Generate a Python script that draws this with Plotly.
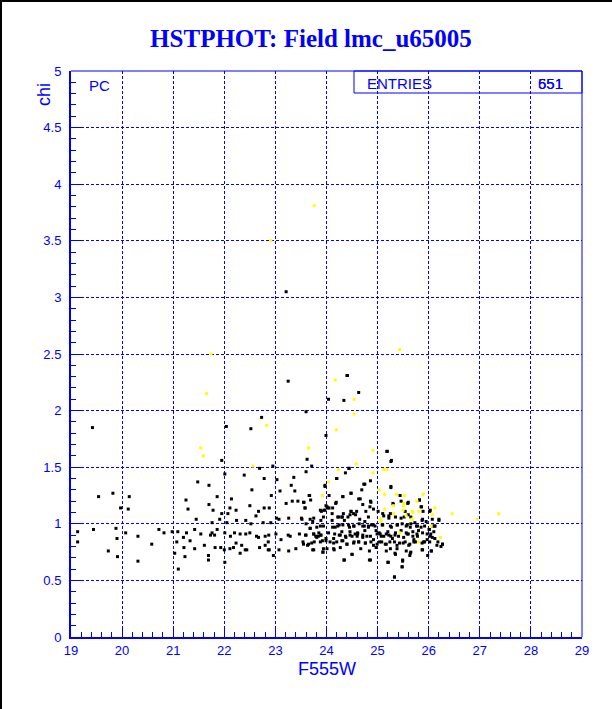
import plotly.graph_objects as go

# ---- data (F555W magnitude, chi) ----
black_left = [
    (19.42, 1.85), (23.25, 2.26), (22.73, 1.94), (22.52, 1.84), (22.04, 1.86), (21.95, 1.56),
    (22.95, 1.51), (22.69, 1.49), (22.39, 1.43), (22.01, 1.44), (22.78, 1.40), (23.03, 1.39),
    (23.36, 1.41), (21.48, 1.37), (21.70, 1.34), (22.54, 1.30), (23.31, 1.34), (23.09, 1.29),
    (23.38, 1.29), (22.92, 1.25), (21.86, 1.24), (22.14, 1.22), (21.25, 1.21), (21.29, 1.13),
    (21.70, 1.17), (21.78, 1.12), (22.11, 1.14), (22.23, 1.12), (22.50, 1.16), (22.78, 1.14),
    (22.88, 1.14), (23.21, 1.18), (23.33, 1.20), (23.44, 1.20), (19.97, 1.14), (20.12, 1.13),
    (19.54, 1.24), (19.82, 1.27), (20.14, 1.24), (21.95, 1.09), (22.07, 1.09), (21.45, 1.04),
    (21.91, 1.04), (22.24, 1.03), (22.42, 1.03), (22.62, 1.07), (22.67, 1.11), (23.02, 1.05),
    (23.07, 1.04), (23.26, 1.05), (21.76, 1.01), (22.05, 1.01), (22.52, 1.00), (22.76, 1.01),
    (22.91, 1.01), (23.21, 3.05),
    (19.13, 0.93), (19.44, 0.95), (19.88, 0.96), (20.07, 0.92), (20.31, 0.89), (20.72, 0.95),
    (20.82, 0.92), (20.98, 0.93), (21.09, 0.93), (21.26, 0.92), (21.42, 0.95), (21.54, 0.91),
    (21.76, 0.92), (21.81, 0.90), (21.73, 0.90), (21.86, 0.95), (22.01, 0.92), (22.12, 0.89),
    (22.20, 0.92), (22.31, 0.91), (22.42, 0.91), (22.50, 0.92), (22.63, 0.89), (22.67, 0.88),
    (22.80, 0.89), (22.87, 0.90), (23.01, 0.91), (23.11, 0.86), (23.25, 0.90), (23.29, 0.89),
    (23.47, 0.91), (19.13, 0.84), (19.73, 0.76), (19.91, 0.71), (20.31, 0.67), (20.58, 0.82),
    (21.07, 0.84), (21.21, 0.79), (21.23, 0.71), (21.03, 0.74), (21.10, 0.60), (21.33, 0.85),
    (21.42, 0.78), (21.61, 0.81), (21.69, 0.72), (21.69, 0.68), (21.82, 0.79), (21.93, 0.79),
    (22.00, 0.77), (22.01, 0.66), (22.11, 0.78), (22.18, 0.79), (22.23, 0.83), (22.34, 0.81),
    (22.31, 0.74), (22.41, 0.77), (22.44, 0.77), (22.69, 0.79), (22.80, 0.81), (22.86, 0.77),
    (22.88, 0.77), (22.86, 0.84), (22.96, 0.72), (23.07, 0.77), (23.26, 0.76), (23.40, 0.78),
    (19.90, 0.87), (21.20, 0.88),
]

black_right = [
    (24.40, 2.31), (24.41, 2.31), (24.63, 2.16), (24.04, 2.10), (24.34, 2.09), (23.60, 1.99),
    (23.99, 1.78), (25.19, 1.64), (23.62, 1.57), (25.27, 1.56), (23.71, 1.51), (24.44, 1.49),
    (23.60, 1.46), (24.37, 1.45), (24.20, 1.40), (24.73, 1.35), (23.97, 1.34), (25.26, 1.33),
    (24.48, 1.27), (25.44, 1.25), (23.66, 1.25), (24.05, 1.25), (24.32, 1.24), (24.66, 1.22),
    (25.82, 1.21), (23.69, 1.21), (24.19, 1.19), (23.56, 1.19), (24.87, 1.19), (25.59, 1.18),
    (25.30, 1.18), (24.71, 1.17), (24.18, 1.18), (23.99, 1.16), (23.58, 1.14), (24.03, 1.14),
    (24.85, 1.15), (25.85, 1.15), (23.90, 1.11), (23.97, 1.12), (24.48, 1.11), (24.77, 1.11),
    (25.01, 1.11), (25.54, 1.11), (26.02, 1.11), (25.25, 1.09), (24.11, 1.09), (24.33, 1.09),
    (25.65, 1.06), (25.12, 1.07), (24.22, 1.06), (24.31, 1.06), (24.42, 1.06), (24.57, 1.08),
    (24.65, 1.04), (24.82, 1.06), (25.22, 1.05), (25.46, 1.05), (26.20, 1.03), (25.87, 1.03),
    (23.52, 1.04), (23.73, 1.02), (23.89, 1.03), (24.11, 1.03), (24.35, 1.03), (24.75, 1.02),
    (24.25, 0.99), (24.43, 0.99), (24.54, 0.98), (24.64, 1.00), (24.71, 0.98), (24.82, 0.98),
    (24.88, 0.99), (24.92, 0.99), (25.10, 0.99), (25.27, 0.97), (25.38, 0.99), (25.48, 1.00),
    (25.58, 0.99), (25.65, 1.00), (25.78, 0.98), (25.92, 0.98), (26.08, 0.98), (26.12, 0.98),
    (26.01, 0.95), (23.68, 0.96), (24.17, 0.97), (24.30, 0.93), (24.46, 0.93), (24.61, 0.92),
    (24.75, 0.94), (24.97, 0.94), (25.03, 0.92), (25.20, 0.93), (25.35, 0.92), (25.46, 0.94),
    (25.56, 0.92), (25.69, 0.93), (25.80, 0.94), (25.88, 0.92), (26.04, 0.91), (23.59, 0.90),
    (23.75, 0.91), (23.81, 0.88), (23.89, 0.90), (23.99, 0.87), (24.14, 0.87), (24.25, 0.90),
    (24.38, 0.88), (24.50, 0.89), (24.60, 0.89), (24.71, 0.88), (24.79, 0.89), (24.92, 0.86),
    (25.05, 0.91), (25.12, 0.89), (25.22, 0.90), (25.29, 0.87), (25.41, 0.89), (25.51, 0.88),
    (25.60, 0.91), (25.71, 0.86), (25.78, 0.89), (25.97, 0.86), (26.07, 0.88), (23.54, 0.84),
    (23.65, 0.82), (23.76, 0.84), (23.92, 0.85), (24.07, 0.84), (24.20, 0.84), (24.32, 0.85),
    (24.40, 0.82), (24.53, 0.83), (24.63, 0.84), (24.76, 0.83), (24.87, 0.84), (24.99, 0.82),
    (25.08, 0.84), (25.17, 0.82), (25.33, 0.84), (25.43, 0.83), (25.54, 0.84), (25.63, 0.82),
    (25.74, 0.84), (25.87, 0.83), (25.92, 0.84), (26.02, 0.84), (26.16, 0.81), (26.27, 0.82),
    (23.73, 0.77), (23.94, 0.78), (24.15, 0.77), (24.27, 0.79), (24.67, 0.78), (24.84, 0.76),
    (24.97, 0.79), (25.17, 0.76), (25.25, 0.78), (25.38, 0.78), (25.56, 0.76), (25.64, 0.74),
    (25.88, 0.77), (26.05, 0.76), (23.93, 0.75), (24.50, 0.73), (25.35, 0.73), (24.34, 0.68),
    (24.86, 0.68), (25.20, 0.66), (25.49, 0.68), (25.48, 0.62), (25.33, 0.53), (23.60, 1.00),
    (23.75, 0.77), (23.85, 0.92), (23.68, 1.04), (24.01, 0.78),
]

black_cluster_a = [
    (23.68, 0.96), (23.81, 0.97), (23.88, 0.98), (23.94, 0.98), (24.12, 0.97), (24.22, 0.98),
    (24.32, 0.99), (24.45, 0.97), (24.53, 0.98), (23.60, 0.90), (23.75, 0.91), (23.79, 0.89),
    (23.84, 0.89), (23.89, 0.90), (24.04, 0.92), (24.16, 0.91), (24.27, 0.90), (24.37, 0.89),
    (24.46, 0.90), (24.56, 0.91), (24.61, 0.91), (23.55, 0.82), (23.63, 0.81), (23.71, 0.83),
    (23.88, 0.84), (23.99, 0.85), (24.14, 0.83), (24.30, 0.85), (24.40, 0.82), (24.54, 0.84),
    (24.63, 0.84), (23.93, 0.75), (24.14, 0.78), (24.50, 0.73), (24.35, 0.68),
    (24.20, 1.40), (24.44, 1.49), (23.97, 1.33), (23.67, 1.25), (24.48, 1.27), (24.32, 1.24),
    (23.55, 1.19), (24.63, 1.22), (23.58, 1.14), (23.88, 1.12), (23.95, 1.12), (24.01, 1.15),
    (24.05, 1.14), (24.12, 1.14), (24.48, 1.11), (24.46, 1.08), (24.53, 1.09), (24.59, 1.11),
    (24.30, 1.06), (24.24, 1.06), (23.75, 1.05), (23.51, 1.05), (23.94, 1.06),
]

black_cluster_b = [
    (25.18, 1.64), (25.26, 1.55), (25.26, 1.32), (25.31, 1.17), (25.46, 1.20), (25.60, 1.19),
    (25.82, 1.21), (24.86, 1.20), (24.69, 1.30), (24.75, 1.35), (24.86, 1.38), (24.92, 1.13),
    (25.10, 1.09), (25.22, 1.07), (25.35, 1.06), (25.52, 1.06), (25.60, 1.08), (25.73, 1.01),
    (24.74, 0.98), (24.82, 0.97), (24.95, 0.98), (25.09, 0.99), (25.25, 0.98), (25.39, 0.99),
    (25.56, 0.98), (25.64, 0.97), (25.76, 0.98), (24.71, 0.90), (24.86, 0.89), (24.99, 0.91),
    (25.07, 0.89), (25.17, 0.91), (25.26, 0.89), (25.34, 0.90), (25.58, 0.91), (25.69, 0.89),
    (25.77, 0.91), (24.76, 0.83), (24.92, 0.81), (25.04, 0.84), (25.15, 0.82), (25.24, 0.84),
    (25.38, 0.81), (25.50, 0.83), (25.61, 0.81), (25.71, 0.84), (25.65, 0.75), (25.63, 0.72),
    (25.34, 0.74), (24.84, 0.68), (25.21, 0.66), (25.49, 0.67), (25.48, 0.62), (25.33, 0.53),
    (26.03, 1.12), (25.86, 1.15), (25.89, 1.11), (26.07, 1.04), (25.88, 1.04), (26.20, 1.04),
    (25.95, 1.02), (26.12, 0.98), (25.85, 0.97), (26.01, 0.95), (26.10, 0.93), (25.97, 0.91),
    (26.03, 0.89), (26.12, 0.87), (26.18, 0.84), (26.27, 0.82), (26.24, 0.80), (25.90, 0.84),
    (25.87, 0.77), (26.05, 0.76), (25.98, 0.72),
]

yellow_points = [
    (21.65, 2.15), (22.83, 1.87), (21.54, 1.67), (21.59, 1.60), (22.56, 1.51), (23.65, 1.67),
    (23.92, 1.25), (24.17, 2.27), (24.19, 1.83), (24.04, 1.37), (23.76, 3.81), (22.91, 3.50),
    (21.74, 2.50), (25.43, 2.54), (24.54, 2.10), (24.54, 1.97), (24.91, 1.65), (24.58, 1.53),
    (25.12, 1.48), (25.18, 1.48), (24.23, 1.48), (24.91, 1.45), (25.03, 1.30), (25.14, 1.26),
    (25.37, 1.26), (25.52, 1.25), (25.89, 1.26), (25.77, 1.20), (25.52, 1.18), (25.31, 1.16),
    (26.12, 1.14), (25.14, 1.13), (25.50, 1.12), (25.68, 1.11), (25.81, 1.11), (26.46, 1.09),
    (27.37, 1.09), (25.56, 1.07), (26.95, 1.04), (25.68, 1.04), (25.07, 1.02), (26.23, 0.88),
    (25.51, 1.16), (25.69, 1.10), (25.67, 1.04), (25.05, 1.04), (25.31, 1.09), (25.44, 0.92),
    (25.80, 0.84), (26.07, 1.08), (26.05, 0.98),
]

x_ticks = [19, 20, 21, 22, 23, 24, 25, 26, 27, 28, 29]
y_ticks = [0, 0.5, 1, 1.5, 2, 2.5, 3, 3.5, 4, 4.5, 5]

black_all = black_left + black_right + black_cluster_a + black_cluster_b
bx = [p[0] for p in black_all]
by = [p[1] for p in black_all]
yx = [p[0] for p in yellow_points]
yy = [p[1] for p in yellow_points]

BLUE = "#0000FF"
W, H = 612, 709
L, R, T, B = 71, 582, 71, 637


def px(xp):
    return (xp - L) / (R - L)


def py(yp):
    return (B - yp) / (B - T)


fig = go.Figure()
fig.add_trace(go.Scatter(x=bx, y=by, mode="markers", hoverinfo="skip",
                         marker=dict(symbol="square", size=3, color="black", line=dict(width=0))))
fig.add_trace(go.Scatter(x=yx, y=yy, mode="markers", hoverinfo="skip",
                         marker=dict(symbol="square", size=3, color="#FFFF00", line=dict(width=0))))

tickfont = dict(family="Liberation Sans", size=13, color=BLUE)
fig.update_layout(
    width=W, height=H,
    margin=dict(l=L, r=W - R, t=T, b=H - B),
    paper_bgcolor="white", plot_bgcolor="white",
    showlegend=False,
    title=dict(text="HSTPHOT: Field lmc_u65005", x=311 / W, xanchor="center",
               y=1 - 38 / H, yanchor="middle",
               font=dict(family="Liberation Serif", size=25, color=BLUE, weight="bold")),
    xaxis=dict(range=[19, 29], tickvals=x_ticks, ticks="inside", ticklen=10, tickwidth=1,
               tickcolor=BLUE, tickfont=tickfont, showgrid=True, gridcolor=BLUE, gridwidth=1,
               griddash="3px,2px", showline=True, linecolor=BLUE, linewidth=2, zeroline=False,
               ticklabelstandoff=0,
               minor=dict(dtick=0.2, tick0=19, ticks="inside", ticklen=5, tickcolor=BLUE,
                          tickwidth=1, showgrid=False)),
    yaxis=dict(range=[0, 5], tickvals=y_ticks, ticks="inside", ticklen=10, tickwidth=1,
               tickcolor=BLUE, tickfont=tickfont, showgrid=True, gridcolor=BLUE, gridwidth=1,
               griddash="3px,2px", showline=True, linecolor=BLUE, linewidth=2, zeroline=False,
               ticklabelstandoff=5,
               minor=dict(dtick=0.1, tick0=0, ticks="inside", ticklen=5, tickcolor=BLUE,
                          tickwidth=1, showgrid=False)),
)

shapes = [
    # top and right frame
    dict(type="line", xref="paper", yref="paper", x0=0, x1=1, y0=1, y1=1,
         line=dict(color=BLUE, width=1)),
    dict(type="line", xref="paper", yref="paper", x0=1, x1=1, y0=0, y1=1,
         line=dict(color=BLUE, width=1)),
    # stats box
    dict(type="rect", xref="paper", yref="paper", x0=px(354), x1=1, y0=py(93), y1=1,
         line=dict(color=BLUE, width=1), fillcolor="rgba(0,0,0,0)"),
    # canvas border
    dict(type="line", xref="paper", yref="paper", x0=px(1), x1=px(1), y0=py(0), y1=py(H),
         line=dict(color="black", width=2)),
    dict(type="line", xref="paper", yref="paper", x0=px(0), x1=px(W), y0=py(1), y1=py(1),
         line=dict(color="black", width=2)),
]
fig.update_layout(shapes=shapes)

labfont = dict(family="Liberation Sans", size=18, color=BLUE)
small = dict(family="Liberation Sans", size=15, color=BLUE)
annotations = [
    dict(text="chi", xref="paper", yref="paper", x=px(44), y=py(95), textangle=-90,
         showarrow=False, xanchor="center", yanchor="middle", font=labfont),
    dict(text="F555W", xref="paper", yref="paper", x=0.5, y=py(669),
         showarrow=False, xanchor="center", yanchor="middle", font=labfont, borderpad=0),
    dict(text="PC", xref="paper", yref="paper", x=px(87), y=py(86),
         showarrow=False, xanchor="left", yanchor="middle", font=small),
    dict(text="ENTRIES", xref="paper", yref="paper", x=px(365), y=py(83),
         showarrow=False, xanchor="left", yanchor="middle", font=small),
    dict(text="551", xref="paper", yref="paper", x=px(536), y=py(83),
         showarrow=False, xanchor="left", yanchor="middle", font=small),
    dict(text="651", xref="paper", yref="paper", x=px(536), y=py(83),
         showarrow=False, xanchor="left", yanchor="middle", font=small),
]
fig.update_layout(annotations=annotations)

fig.write_html("out.html", post_script="document.body.style.margin='0';",
               config={"displayModeBar": False})
